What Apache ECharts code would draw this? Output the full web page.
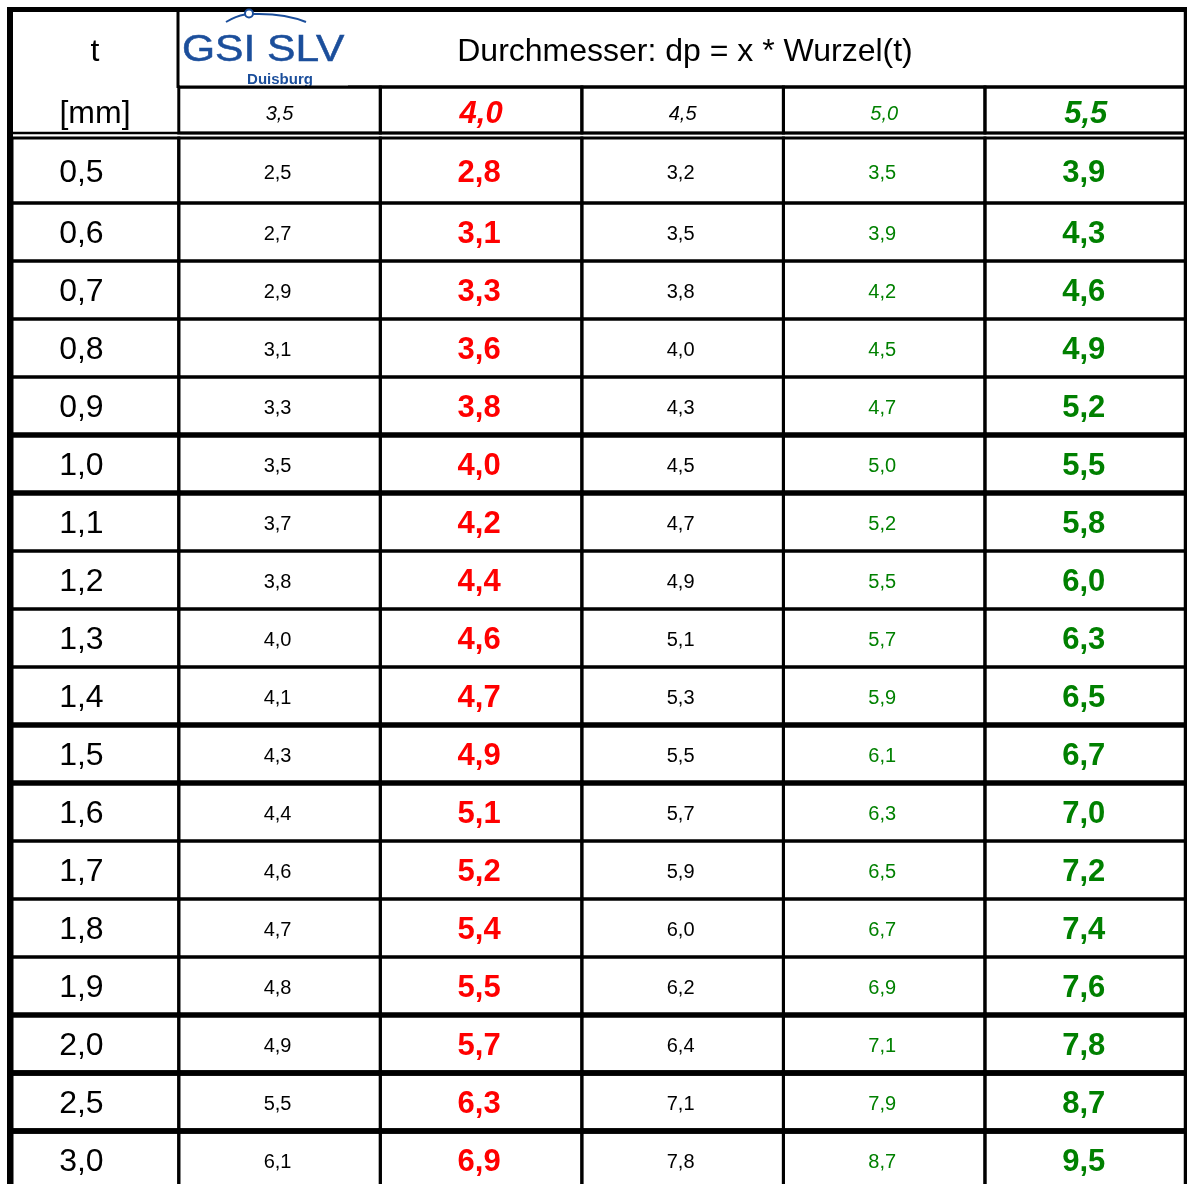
<!DOCTYPE html>
<html>
<head>
<meta charset="utf-8">
<title>Durchmesser: dp = x * Wurzel(t)</title>
<script src="https://cdn.jsdelivr.net/npm/echarts@6/dist/echarts.min.js"></script>
<style>
  html, body { margin: 0; padding: 0; background: #fff; }
  #chart { width: 1187px; height: 1184px; }
</style>
</head>
<body>
<div id="chart"></div>
<script>
// Blechdicke t [mm] (Zeilen)
const tValues = [0.5, 0.6, 0.7, 0.8, 0.9, 1.0, 1.1, 1.2, 1.3, 1.4, 1.5, 1.6, 1.7, 1.8, 1.9, 2.0, 2.5, 3.0];
// Faktor x (Spaltenkoepfe)
const factors = [3.5, 4.0, 4.5, 5.0, 5.5];
// dp je Faktor
const dp35 = [2.5, 2.7, 2.9, 3.1, 3.3, 3.5, 3.7, 3.8, 4.0, 4.1, 4.3, 4.4, 4.6, 4.7, 4.8, 4.9, 5.5, 6.1];
const dp40 = [2.8, 3.1, 3.3, 3.6, 3.8, 4.0, 4.2, 4.4, 4.6, 4.7, 4.9, 5.1, 5.2, 5.4, 5.5, 5.7, 6.3, 6.9];
const dp45 = [3.2, 3.5, 3.8, 4.0, 4.3, 4.5, 4.7, 4.9, 5.1, 5.3, 5.5, 5.7, 5.9, 6.0, 6.2, 6.4, 7.1, 7.8];
const dp50 = [3.5, 3.9, 4.2, 4.5, 4.7, 5.0, 5.2, 5.5, 5.7, 5.9, 6.1, 6.3, 6.5, 6.7, 6.9, 7.1, 7.9, 8.7];
const dp55 = [3.9, 4.3, 4.6, 4.9, 5.2, 5.5, 5.8, 6.0, 6.3, 6.5, 6.7, 7.0, 7.2, 7.4, 7.6, 7.8, 8.7, 9.5];
const columns = [dp35, dp40, dp45, dp50, dp55];
// Zeilen mit dicker Linie oben und unten
const framedRows = [1.0, 1.5, 2.0, 2.5, 3.0];

const FONT = '"Liberation Sans", Arial, sans-serif';
const RED = '#ff0000';
const GREEN = '#008000';
const BLUE = '#1b4e9b';
const colStyles = [
  { fill: '#000', fontSize: 20, fontWeight: 'normal' },
  { fill: RED, fontSize: 31, fontWeight: 'bold' },
  { fill: '#000', fontSize: 20, fontWeight: 'normal' },
  { fill: GREEN, fontSize: 20, fontWeight: 'normal' },
  { fill: GREEN, fontSize: 31, fontWeight: 'bold' }
];
const tStyle = { fill: '#000', fontSize: 32, fontWeight: 'normal' };

const T_COL = 167 / 201.8; // Breite der t-Spalte in Spalteneinheiten
const ROW_H = 58;          // Zeilenhoehe in px
const ROW_PAD = 7 / ROW_H; // erste Zeile etwas hoeher
const BODY_TOP = 138;
const TEXT_DY = 2.5;       // Text sitzt leicht unter der Zellmitte

const fmt = v => v.toFixed(1).replace('.', ',');

function cellRenderer(col, values, style, shift) {
  return function (params, api) {
    const row = params.dataIndex;
    const x0 = col < 0 ? -T_COL : col;
    const x1 = col < 0 ? 0 : col + 1;
    const p0 = api.coord([x0, row === 0 ? -ROW_PAD : row]);
    const p1 = api.coord([x1, row + 1]);
    const children = [
      {
        type: 'rect',
        shape: { x: p0[0], y: p0[1], width: p1[0] - p0[0], height: p1[1] - p0[1] },
        style: { fill: null, stroke: '#000', lineWidth: 3 }
      },
      {
        type: 'text',
        x: (p0[0] + p1[0]) / 2 + shift,
        y: (p0[1] + p1[1]) / 2 + TEXT_DY,
        style: Object.assign({
          text: fmt(values[row]),
          fontFamily: FONT,
          align: 'center',
          verticalAlign: 'middle'
        }, style)
      }
    ];
    if (framedRows.indexOf(tValues[row]) !== -1) {
      [p0[1], p1[1]].forEach(y => {
        children.push({
          type: 'line',
          shape: { x1: p0[0] - 1.5, y1: y, x2: p1[0] + 1.5, y2: y },
          style: { stroke: '#000', lineWidth: 5.5 }
        });
      });
    }
    return { type: 'group', children: children };
  };
}

function headerRenderer(params, api) {
  const i = params.dataIndex;
  const p0 = api.coord([i, 0]);
  const p1 = api.coord([i + 1, 1]);
  return {
    type: 'group',
    children: [
      {
        type: 'rect',
        shape: { x: p0[0], y: p0[1], width: p1[0] - p0[0], height: p1[1] - p0[1] },
        style: { fill: null, stroke: '#000', lineWidth: 3 }
      },
      {
        type: 'text',
        x: (p0[0] + p1[0]) / 2,
        y: (p0[1] + p1[1]) / 2 + 2 + TEXT_DY,
        style: Object.assign({
          text: fmt(factors[i]),
          fontFamily: FONT,
          fontStyle: 'italic',
          align: 'center',
          verticalAlign: 'middle'
        }, colStyles[i])
      }
    ]
  };
}

const series = [
  {
    type: 'custom',
    name: 't [mm]',
    xAxisIndex: 0,
    yAxisIndex: 0,
    renderItem: cellRenderer(-1, tValues, tStyle, -14),
    data: tValues.map((t, i) => [-T_COL / 2, i + 0.5])
  },
  {
    type: 'custom',
    name: 'x',
    xAxisIndex: 1,
    yAxisIndex: 1,
    renderItem: headerRenderer,
    data: factors.map((f, i) => [i + 0.5, 0.5])
  }
];
columns.forEach((vals, c) => {
  series.push({
    type: 'custom',
    name: 'x = ' + fmt(factors[c]),
    xAxisIndex: 0,
    yAxisIndex: 0,
    renderItem: cellRenderer(c, vals, colStyles[c], -2),
    data: vals.map((v, i) => [c + 0.5, i + 0.5])
  });
});

// Grid endet am Bildrand, letzte Zeile laeuft darueber hinaus
const bodyHeight = 1184 - BODY_TOP;

const option = {
  animation: false,
  backgroundColor: '#fff',
  grid: [
    { left: 12, right: 0.5, top: BODY_TOP, height: bodyHeight },
    { left: 12, right: 0.5, top: 87, height: 46 }
  ],
  xAxis: [
    { type: 'value', gridIndex: 0, min: -T_COL, max: factors.length, show: false },
    { type: 'value', gridIndex: 1, min: -T_COL, max: factors.length, show: false }
  ],
  yAxis: [
    { type: 'value', gridIndex: 0, inverse: true, min: -ROW_PAD, max: bodyHeight / ROW_H - ROW_PAD, show: false },
    { type: 'value', gridIndex: 1, inverse: true, min: 0, max: 1, show: false }
  ],
  graphic: [
    // Rahmen
    { type: 'line', shape: { x1: 7, y1: 9.5, x2: 1187, y2: 9.5 }, style: { stroke: '#000', lineWidth: 5 } },
    { type: 'line', shape: { x1: 10, y1: 7, x2: 10, y2: 1184 }, style: { stroke: '#000', lineWidth: 6 } },
    { type: 'line', shape: { x1: 1185.5, y1: 7, x2: 1185.5, y2: 1184 }, style: { stroke: '#000', lineWidth: 3.5 } },
    { type: 'line', shape: { x1: 178, y1: 12, x2: 178, y2: 88 }, style: { stroke: '#000', lineWidth: 3 } },
    { type: 'line', shape: { x1: 178, y1: 87, x2: 1186, y2: 87 }, style: { stroke: '#000', lineWidth: 3 } },
    { type: 'line', shape: { x1: 12, y1: 133, x2: 1186, y2: 133 }, style: { stroke: '#000', lineWidth: 2.5 } },
    // Kopf
    { type: 'text', x: 95, y: 50 + TEXT_DY, style: { text: 't', fontFamily: FONT, fontSize: 32, fill: '#000', align: 'center', verticalAlign: 'middle' } },
    { type: 'text', x: 95, y: 112 + TEXT_DY, style: { text: '[mm]', fontFamily: FONT, fontSize: 32, fill: '#000', align: 'center', verticalAlign: 'middle' } },
    { type: 'text', x: 685, y: 50 + TEXT_DY, style: { text: 'Durchmesser: dp = x * Wurzel(t)', fontFamily: FONT, fontSize: 32, fill: '#000', align: 'center', verticalAlign: 'middle' } },
    // Logo
    {
      type: 'group',
      z: 10,
      children: [
        { type: 'rect', shape: { x: 180, y: 12, width: 168, height: 74 }, style: { fill: '#fff' } },
        { type: 'bezierCurve', shape: { x1: 226, y1: 22, cpx1: 236, cpy1: 16, x2: 245, y2: 14.5 }, style: { stroke: BLUE, lineWidth: 2, fill: null } },
        { type: 'bezierCurve', shape: { x1: 253, y1: 14, cpx1: 284, cpy1: 13, x2: 306, y2: 22 }, style: { stroke: BLUE, lineWidth: 2, fill: null } },
        { type: 'circle', shape: { cx: 249, cy: 13.5, r: 4 }, style: { fill: '#fff', stroke: BLUE, lineWidth: 2 } },
        { type: 'text', x: 182, y: 51, scaleX: 1.15, style: { text: 'GSI SLV', fontFamily: FONT, fontSize: 37, fill: BLUE, stroke: BLUE, lineWidth: 0.5, align: 'left', verticalAlign: 'middle' } },
        { type: 'text', x: 280, y: 80, style: { text: 'Duisburg', fontFamily: FONT, fontSize: 15, fontWeight: 'bold', fill: BLUE, align: 'center', verticalAlign: 'middle' } }
      ]
    }
  ],
  series: series
};

const myChart = echarts.init(document.getElementById('chart'));
myChart.setOption(option);
window.addEventListener('resize', () => {
  myChart.resize();
});
</script>
</body>
</html>
